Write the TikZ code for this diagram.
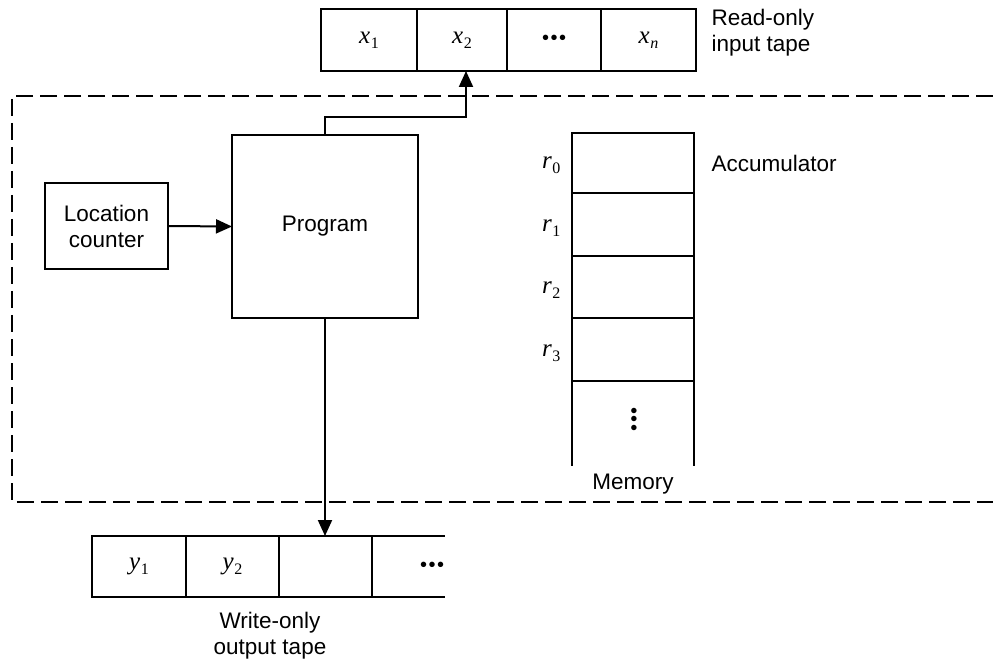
\documentclass[tikz,border=0pt]{standalone}
\usepackage{fontspec}
\setmainfont{Liberation Sans}
\newfontfamily\varfont{Liberation Serif}
\usetikzlibrary{arrows.meta}
% tape symbol: italic letter with upright subscript
\newcommand{\tsym}[2]{{\varfont\fontsize{25}{28}\selectfont\itshape #1\kern0.5pt\raisebox{-5pt}{\fontsize{16}{16}\selectfont\upshape #2}}}
\newcommand{\dotrow}{{\fontsize{20}{20}\selectfont\textbullet\kern1.5pt\textbullet\kern1.5pt\textbullet}}
\newcommand{\hdots}{\raisebox{-3pt}{\dotrow}}
\begin{document}
\begin{tikzpicture}[x=1pt,y=-1pt,
  every node/.style={font=\fontsize{22.5}{26}\selectfont},
  box/.style={draw, line width=2pt, inner sep=0pt, outer sep=0pt},
  edge/.style={line width=2pt},
  arr/.style={line width=2pt, -{Triangle[length=16pt,width=14pt]}},
  frame/.style={line width=1.6pt, dash pattern=on 17pt off 7pt}]
\useasboundingbox (0,0) rectangle (993,660);

% read-only input tape
\node[box, minimum width=96pt, minimum height=62pt] (in1) at (369,40) {\tsym{x}{1}};
\node[box, minimum width=90pt, minimum height=62pt] (in2) at (462,40) {\tsym{x}{2}};
\node[box, minimum width=94pt, minimum height=62pt] (in3) at (554,40) {\hdots};
\node[box, minimum width=95pt, minimum height=62pt] (in4) at (648.5,40) {\tsym{x}{\itshape n}};
\node[anchor=west, align=left] (inlab) at (708,33) {Read-only\\input tape};

% processor boundary
\draw[frame] (993,96) -- (12,96) -- (12,502) -- (993,502);

% program and location counter
\node[box, minimum width=186pt, minimum height=183pt] (prog) at (325,226.5) {\raisebox{-4pt}{Program}};
\node[box, minimum width=123pt, minimum height=86pt, align=center] (lc) at (106.5,226) {Location\\counter};
\draw[arr] (lc.east) -- (prog.west);
\draw[arr] (prog.north) -- ++(0,-18) -| ([xshift=4pt]in2.south);

% memory registers
\node[box, minimum width=122pt, minimum height=60pt] (m0) at (633,163) {};
\node[box, minimum width=122pt, minimum height=63pt] (m1) at (633,224.5) {};
\node[box, minimum width=122pt, minimum height=62pt] (m2) at (633,287) {};
\node[box, minimum width=122pt, minimum height=63pt] (m3) at (633,349.5) {};
\coordinate (mbl) at (572,466);
\coordinate (mbr) at (694,466);
\draw[edge] (m3.south west) -- (mbl);
\draw[edge] (m3.south east) -- (mbr);
\node[rotate=90, inner sep=0pt] (mdots) at (636,419) {\dotrow};
\node[anchor=east] (r0) at (564,165) {\tsym{r}{0}};
\node[anchor=east] (r1) at (564,228) {\tsym{r}{1}};
\node[anchor=east] (r2) at (564,290) {\tsym{r}{2}};
\node[anchor=east] (r3) at (564,353) {\tsym{r}{3}};
\node[anchor=west] (acc) at (708,163) {Accumulator};
\node (memlab) at (633,484) {Memory};

% write-only output tape
\node[box, minimum width=94pt, minimum height=61pt] (out1) at (139,566.5) {\tsym{y}{1}};
\node[box, minimum width=93pt, minimum height=61pt] (out2) at (232.5,566.5) {\tsym{y}{2}};
\node[box, minimum width=93pt, minimum height=61pt] (out3) at (325.5,566.5) {};
\coordinate (otr) at (445,536);
\coordinate (obr) at (445,597);
\draw[edge] (out3.north east) -- (otr);
\draw[edge] (out3.south east) -- (obr);
\node (odots) at (432,566.5) {\hdots};
\node[align=center] (outlab) at (270,636) {Write-only\\output tape};
\draw[arr] (prog.south) -- (prog.south |- out3.north);
\end{tikzpicture}
\end{document}
